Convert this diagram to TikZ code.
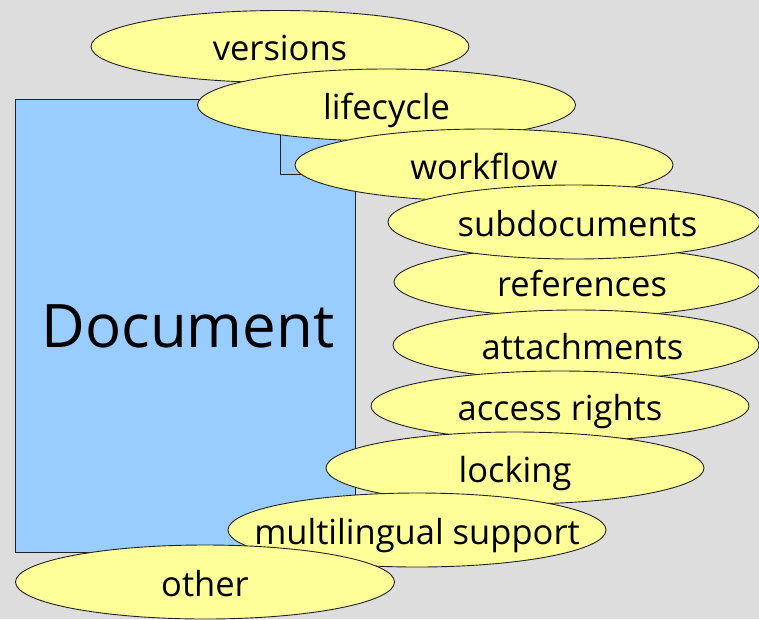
\documentclass[tikz,border=0pt]{standalone}
\usepackage{fontspec}
\setmainfont{Open Sans}
\usetikzlibrary{shapes.geometric}
\definecolor{bg}{HTML}{DDDDDD}
\definecolor{docblue}{HTML}{99CCFF}
\definecolor{bubble}{HTML}{FFFF99}
\definecolor{edge}{HTML}{222222}
\newcommand{\btxt}[2][0pt]{\makebox[0pt]{\hspace*{#1}\raisebox{-14pt}[0pt][0pt]{#2}}}
\tikzset{
  bub/.style={ellipse, draw=edge, line width=0.9pt, fill=bubble, inner sep=0pt,
    minimum width=378pt, minimum height=72pt, font=\fontsize{34.5}{40}\selectfont},
  docbox/.style={draw=edge, line width=0.9pt, fill=docblue}
}
\begin{document}
\begin{tikzpicture}[x=1pt,y=-1pt]
\fill[bg] (0,0) rectangle (759,619);
\useasboundingbox (0,0) rectangle (759,619);
\node[docbox, minimum width=340pt, minimum height=453pt, inner sep=0pt, anchor=north west,
  font=\fontsize{60}{64}\selectfont] (doc) at (15,99) {\hspace*{5pt}Document};
\node[docbox, minimum width=60pt, minimum height=60pt, inner sep=0pt, anchor=south west] (tab) at (280,175) {};
\node[bub] (versions) at (280,46.5) {\btxt{versions}};
\node[bub] (lifecycle) at (386.5,105) {\btxt{lifecycle}};
\node[bub] (workflow) at (484,165) {\btxt{workflow}};
\node[bub, minimum width=366pt, minimum height=70pt] (references) at (577,282) {\btxt[10pt]{references}};
\node[bub, minimum width=372pt, minimum height=74pt] (subdocuments) at (574,222) {\btxt[7pt]{subdocuments}};
\node[bub, minimum width=366pt, minimum height=70pt] (attachments) at (576,345) {\btxt[13pt]{attachments}};
\node[bub, minimum height=70pt] (access) at (560,406) {\btxt{access rights}};
\node[bub] (locking) at (515,468) {\btxt{locking}};
\node[bub, minimum height=74pt] (multi) at (417,530) {\btxt{multilingual support}};
\node[bub, minimum width=379pt, minimum height=74pt] (other) at (205,582) {\btxt{other}};
\end{tikzpicture}
\end{document}
